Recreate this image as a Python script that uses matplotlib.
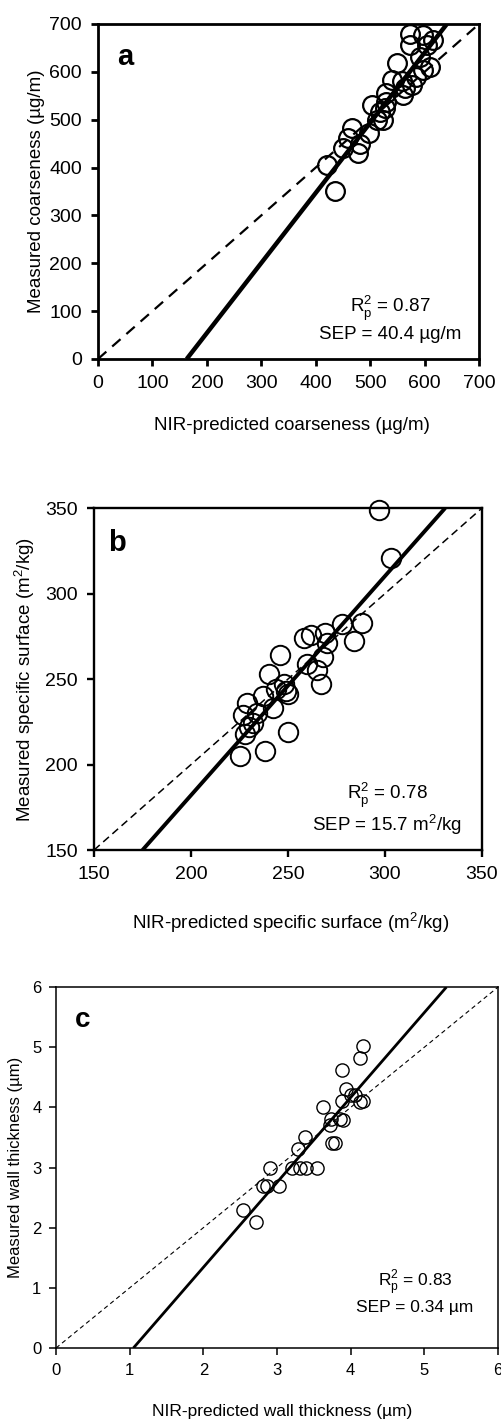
import matplotlib
matplotlib.use("Agg")
import matplotlib.pyplot as plt
import numpy as np

plt.rcParams['font.family'] = ['Liberation Sans', 'DejaVu Sans']
plt.rcParams['mathtext.fontset'] = 'custom'
plt.rcParams['mathtext.rm'] = 'Liberation Sans'

# Panel a - coarseness (ug/m)
a_pred = [435, 420, 451, 466, 478, 497, 503, 518, 524, 530, 527, 540, 550, 561, 564,
          558, 576, 573, 573, 598, 604, 610, 616, 592, 598, 481, 460, 512, 530, 585]
a_meas = [350, 405, 440, 482, 430, 472, 530, 517, 499, 555, 524, 583, 618, 552, 566,
          580, 572, 656, 680, 677, 656, 611, 667, 632, 604, 450, 461, 499, 538, 590]
a_fit_x = [163, 641]
a_fit_y = [0, 700]

# Panel b - specific surface (m2/kg)
b_pred = [297, 303, 288, 278, 284, 269, 270, 262, 258, 268, 260, 265, 267, 246, 240,
          248, 249, 250, 244, 237, 229, 242, 234, 227, 232, 250, 228, 225, 238, 230]
b_meas = [349, 321, 283, 282, 272, 277, 271, 276, 274, 263, 259, 255, 247, 264, 253,
          247, 243, 241, 244, 240, 236, 233, 230, 229, 224, 219, 218, 205, 208, 222]
b_fit_x = [175, 331]
b_fit_y = [150, 350]

# Panel c - wall thickness (um)
c_pred = [4.17, 4.12, 3.88, 3.93, 4.01, 4.06, 3.88, 4.12, 4.17, 3.62, 3.73, 3.72, 3.85, 3.90,
          3.79, 3.74, 3.38, 3.29, 3.20, 3.31, 3.40, 3.54, 2.90, 2.81, 2.86, 3.02, 2.54, 2.72]
c_meas = [5.02, 4.82, 4.62, 4.30, 4.20, 4.20, 4.11, 4.09, 4.11, 4.00, 3.81, 3.70, 3.80, 3.79,
          3.40, 3.40, 3.51, 3.31, 3.00, 3.00, 3.00, 3.00, 3.00, 2.69, 2.69, 2.69, 2.29, 2.09]
c_fit_x = [1.05, 5.30]
c_fit_y = [0, 6]

fig = plt.figure(figsize=(5.02, 14.2), dpi=100)

panels = [
    dict(rect=[0.1952, 0.7472, 0.759, 0.2359], x=a_pred, y=a_meas, fx=a_fit_x, fy=a_fit_y,
         lim=(0, 700), ticks=np.arange(0, 701, 100), letter='a', letter_xy=(0.071, 0.90),
         xlabel='NIR-predicted coarseness (µg/m)', ylabel='Measured coarseness (µg/m)',
         stats=[r'R$_\mathregular{p}^\mathregular{2}$ = 0.87', 'SEP = 40.4 µg/m'],
         stats_x=0.766, stats_y=(0.152, 0.072),
         ms=13.5, mew=1.6, fit_lw=3.2, dash_lw=1.6, dash=(5, 3.5), frame=2.0,
         fs=13.5, yfs=13.5, tfs=14, pad=6.5, lfs=21,
         xlab_xy=(0.508, -0.172), ylab_xy=(-0.14, 0.5)),
    dict(rect=[0.1873, 0.4014, 0.7729, 0.2408], x=b_pred, y=b_meas, fx=b_fit_x, fy=b_fit_y,
         lim=(150, 350), ticks=np.arange(150, 351, 50), letter='b', letter_xy=(0.059, 0.898),
         xlabel='NIR-predicted specific surface (m$^\\mathregular{2}$/kg)',
         ylabel='Measured specific surface (m$^\\mathregular{2}$/kg)',
         stats=[r'R$_\mathregular{p}^\mathregular{2}$ = 0.78', 'SEP = 15.7 m$^\\mathregular{2}$/kg'],
         stats_x=0.755, stats_y=(0.161, 0.073),
         ms=14, mew=1.4, fit_lw=2.8, dash_lw=1.1, dash=(5, 3), frame=1.7,
         fs=13.5, yfs=13.5, tfs=14, pad=6.5, lfs=21,
         xlab_xy=(0.508, -0.175), ylab_xy=(-0.147, 0.5)),
    dict(rect=[0.1116, 0.0507, 0.8805, 0.2542], x=c_pred, y=c_meas, fx=c_fit_x, fy=c_fit_y,
         lim=(0, 6), ticks=np.arange(0, 7, 1), letter='c', letter_xy=(0.061, 0.909),
         xlabel='NIR-predicted wall thickness (µm)', ylabel='Measured wall thickness (µm)',
         stats=[r'R$_\mathregular{p}^\mathregular{2}$ = 0.83', 'SEP = 0.34 µm'],
         stats_x=0.812, stats_y=(0.183, 0.111),
         ms=9.5, mew=1.0, fit_lw=2.0, dash_lw=0.8, dash=(4, 3), frame=1.1,
         fs=12.5, yfs=12, tfs=12, pad=5.5, lfs=20,
         xlab_xy=(0.512, -0.155), ylab_xy=(-0.075, 0.5)),
]

for p in panels:
    ax = fig.add_axes(p['rect'])
    lo, hi = p['lim']
    # 1:1 line, fitted line, then the samples
    ax.plot([lo, hi], [lo, hi], color='black', lw=p['dash_lw'], linestyle=(0, p['dash']))
    ax.plot(p['fx'], p['fy'], color='black', lw=p['fit_lw'], solid_capstyle='butt')
    ax.plot(p['x'], p['y'], 'o', ms=p['ms'], mfc='none', mec='black', mew=p['mew'],
            clip_on=False, zorder=3)
    ax.set_xlim(lo, hi)
    ax.set_ylim(lo, hi)
    ax.set_xticks(p['ticks'])
    ax.set_yticks(p['ticks'])
    ax.tick_params(direction='out', length=5, width=p['frame'], labelsize=p['tfs'],
                   colors='black', pad=p['pad'])
    for s in ax.spines.values():
        s.set_linewidth(p['frame'])
    ax.set_xlabel(p['xlabel'], fontsize=p['fs'])
    ax.set_ylabel(p['ylabel'], fontsize=p['yfs'])
    ax.xaxis.set_label_coords(*p['xlab_xy'])
    ax.yaxis.set_label_coords(*p['ylab_xy'])
    ax.text(p['letter_xy'][0], p['letter_xy'][1], p['letter'], transform=ax.transAxes,
            fontsize=p['lfs'], fontweight='bold', ha='center', va='center')
    for txt, yy in zip(p['stats'], p['stats_y']):
        ax.text(p['stats_x'], yy, txt, transform=ax.transAxes, fontsize=p['fs'],
                ha='center', va='center')

fig.savefig('out.png', dpi=100)
